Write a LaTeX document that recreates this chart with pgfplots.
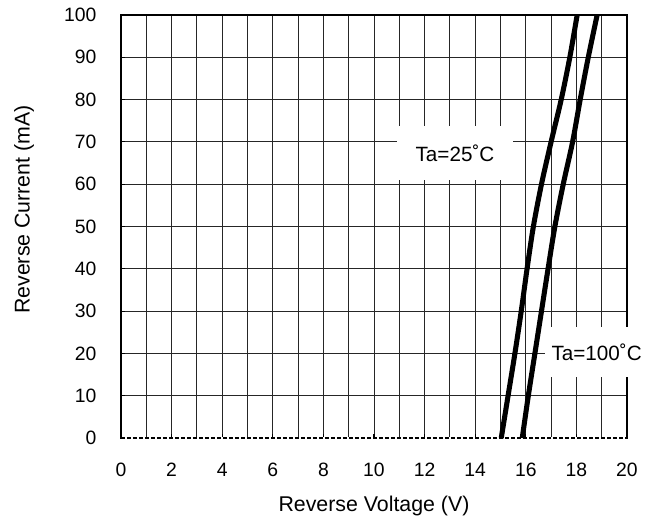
\documentclass[border=0pt]{standalone}
\usepackage{fontspec}
\setmainfont{Liberation Sans}
\usepackage{pgfplots}
\pgfplotsset{compat=1.18}
\begin{document}
\begin{tikzpicture}
\useasboundingbox (-90.75pt,-61.5pt) rectangle (402.75pt,328.5pt);
\begin{axis}[
  at={(0,0)}, anchor=south west,
  scale only axis,
  width=379.5pt, height=317.25pt,
  xmin=0, xmax=20, ymin=0, ymax=100,
  xtick={0,2,...,20}, minor x tick num=1,
  ytick={0,10,...,100},
  grid=both,
  major grid style={black!85, line width=0.6pt},
  minor grid style={black!85, line width=0.6pt},
  tick pos=left, tick align=inside,
  major tick length=3pt, minor tick length=0pt,
  every tick/.style={black, line width=0.8pt},
  axis line style={black, line width=0.9pt},
  /pgf/number format/assume math mode=true,
  tick label style={font=\fontsize{14.5}{17}\selectfont},
  xticklabel style={anchor=base, yshift=-29.25pt},
  yticklabel style={xshift=-15pt},
  label style={font=\fontsize{16}{19}\selectfont},
  xlabel={Reverse Voltage (V)},
  ylabel={Reverse Current (mA)},
  xlabel style={at={(axis description cs:0.5,0)}, anchor=base, yshift=-55.5pt},
  ylabel style={at={(axis description cs:0,0.54)}, anchor=center, yshift=72.75pt},
  clip=false,
]
% dashed zero line along the bottom
\addplot[white, line width=1.6pt, forget plot] coordinates {(0,0) (20,0)};
\addplot[black, line width=0.8pt, dash pattern=on 3pt off 1.5pt, forget plot] coordinates {(0,0) (20,0)};
% Ta = 25 C
\addplot[black, line width=3.8pt, smooth] coordinates {
  (15.03,0) (15.30,10) (15.57,20) (15.82,30) (16.05,40) (16.30,50)
  (16.62,60) (17.00,70) (17.40,80) (17.74,90) (18.03,100)
};
% Ta = 100 C
\addplot[black, line width=3.8pt, smooth] coordinates {
  (15.86,0) (16.10,10) (16.36,20) (16.62,30) (16.88,40) (17.15,50)
  (17.48,60) (17.85,70) (18.15,80) (18.47,90) (18.82,100)
};
\node[fill=white, minimum width=87pt, minimum height=40pt, inner sep=0pt, font=\fontsize{15.5}{18}\selectfont]
  at (axis cs:13.2,67.4) {Ta=25˚C};
\node[fill=white, minimum width=78pt, minimum height=37.5pt, inner sep=0pt, font=\fontsize{15.5}{18}\selectfont]
  at (axis cs:18.8,20.3) {Ta=100˚C};
\end{axis}
\end{tikzpicture}
\end{document}
